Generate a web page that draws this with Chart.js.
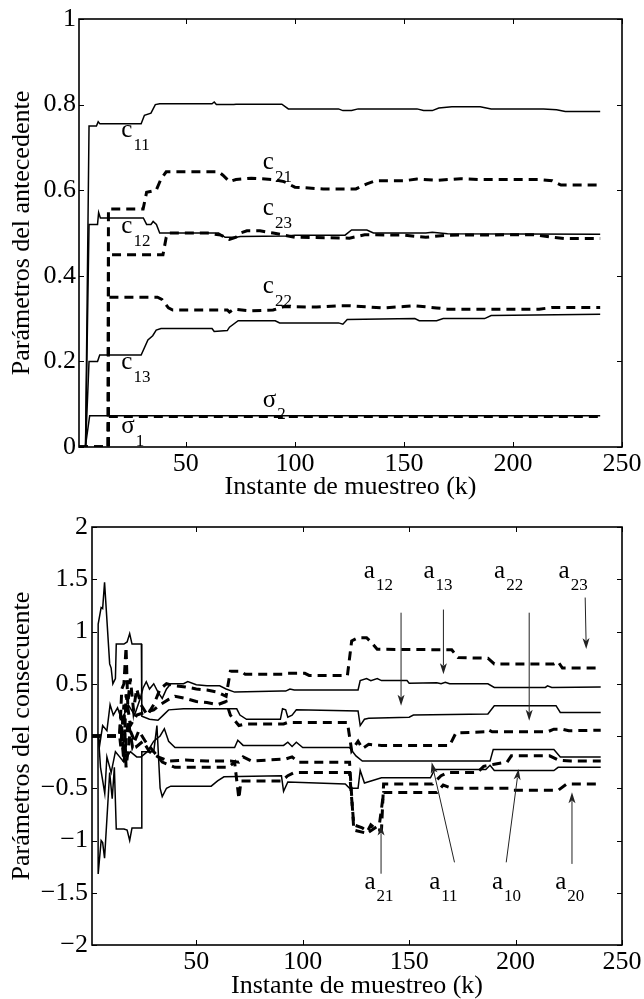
<!DOCTYPE html>
<html>
<head>
<meta charset="utf-8">
<script src="https://cdn.jsdelivr.net/npm/chart.js@4.4.1/dist/chart.umd.min.js"></script>
<style>
  html, body { margin: 0; padding: 0; background: #fff; }
  .panel { position: absolute; left: 0; width: 644px; }
  #top-panel { top: 0; height: 500px; }
  #bottom-panel { top: 500px; height: 499px; }
</style>
</head>
<body>
<div class="panel" id="top-panel"><canvas id="antChart" width="644" height="500"></canvas></div>
<div class="panel" id="bottom-panel"><canvas id="conChart" width="644" height="499"></canvas></div>
<script>
// --- Data: [k, value] pairs ---

// antecedent parameters (top)
const c11 = [[1,0],[4,0],[5.6,0.75],[9,0.75],[9.8,0.76],[10.6,0.755],[29.5,0.755],[31,0.775],[34,0.78],[36,0.8],[38,0.802],[62,0.802],[63,0.806],[64,0.8],[72,0.8],[73,0.801],[94,0.801],[97,0.79],[120,0.79],[122,0.786],[126,0.786],[129,0.79],[156,0.79],[159,0.786],[163,0.786],[166,0.792],[172,0.795],[185,0.795],[190,0.79],[214,0.79],[220,0.788],[224,0.784],[240,0.784]];
const c12 = [[1,0],[4,0],[5.6,0.52],[9.5,0.52],[10,0.548],[10.8,0.535],[30.5,0.535],[32,0.52],[34,0.52],[35,0.527],[36.5,0.52],[38,0.5],[65,0.5],[68,0.49],[73,0.49],[75,0.492],[96,0.493],[100,0.495],[123,0.495],[126,0.507],[133,0.507],[136,0.5],[160,0.5],[163,0.502],[170,0.498],[240,0.497]];
const c13 = [[1,0],[4,0],[5.6,0.2],[9.5,0.2],[10.5,0.215],[29.5,0.215],[32.6,0.25],[34.8,0.26],[36.4,0.273],[38.6,0.277],[62,0.277],[63,0.27],[69,0.272],[70,0.28],[74,0.295],[91,0.295],[93,0.29],[120,0.29],[122,0.287],[124,0.298],[155,0.3],[157,0.295],[165,0.295],[168,0.3],[187,0.3],[190,0.307],[240,0.31]];
const c21 = [[1,0],[14.4,0],[14.5,0.556],[30.4,0.556],[32,0.595],[36.4,0.6],[38.5,0.625],[41,0.643],[65,0.643],[67,0.635],[70,0.62],[73,0.625],[80,0.628],[90,0.625],[95,0.62],[100,0.607],[113,0.603],[128,0.603],[133,0.615],[137,0.622],[150,0.622],[156,0.626],[165,0.623],[176,0.627],[185,0.625],[212,0.625],[218,0.622],[222,0.612],[240,0.612]];
const c22 = [[1,0],[14.4,0],[14.5,0.35],[37,0.35],[39,0.345],[42,0.325],[44,0.32],[69,0.32],[70,0.315],[72,0.322],[80,0.318],[90,0.32],[95,0.328],[110,0.327],[120,0.33],[125,0.33],[140,0.325],[150,0.328],[155,0.33],[165,0.325],[170,0.322],[212,0.322],[218,0.326],[240,0.326]];
const c23 = [[1,0],[14.4,0],[14.5,0.449],[39.5,0.449],[41,0.49],[42,0.5],[60,0.5],[66,0.495],[70,0.485],[73,0.49],[75,0.5],[78,0.505],[84,0.505],[90,0.5],[100,0.49],[125,0.488],[132,0.496],[150,0.495],[160,0.49],[170,0.495],[210,0.496],[218,0.49],[224,0.487],[240,0.487]];
const sigma1 = [[1,0],[3.9,0],[5.9,0.073],[240,0.073]];
const sigma2 = [[1,0],[14.4,0],[14.5,0.071],[240,0.071]];

// consequent parameters (bottom)
const a10 = [[1,0],[3.8,0],[3.9,-1.32],[5.3,-1.0],[6,-1.02],[6.9,-1.17],[9.3,-0.35],[10.5,-0.6],[11.5,-0.3],[12.4,-0.89],[16,-0.89],[17.5,-0.9],[18.7,-1.0],[19.8,-0.88],[24.2,-0.88],[24.4,-0.15],[30,-0.15],[31.5,0.1],[33,-0.5],[34,-0.58],[36,-0.5],[38,-0.48],[57,-0.48],[60,-0.43],[63,-0.39],[90,-0.38],[91,-0.53],[93,-0.44],[120,-0.46],[122,-0.5],[126,-0.5],[127,-0.33],[129,-0.45],[137,-0.4],[160,-0.4],[162,-0.32],[186,-0.32],[188,-0.28],[190,-0.33],[218,-0.33],[220,-0.3],[240,-0.3]];
const a11 = [[1,0],[4,0],[5,-0.3],[7,-0.55],[8,-0.2],[10,-0.35],[12,-0.15],[14,-0.2],[16,-0.25],[19,-0.15],[22,-0.2],[24,-0.2],[27,-0.15],[30,-0.05],[33,0.0],[35,0.07],[37,-0.05],[40,-0.11],[68,-0.11],[69.5,-0.04],[72,-0.09],[91,-0.09],[93,-0.06],[95,-0.1],[97,-0.06],[100,-0.11],[122,-0.11],[125,-0.19],[128,-0.24],[188,-0.24],[189.5,-0.13],[218,-0.13],[221,-0.2],[240,-0.2]];
const a12 = [[1,0],[3.8,0],[3.9,1.07],[5.3,1.23],[6,1.22],[6.9,1.47],[9.3,0.69],[10,0.65],[10.8,0.5],[12,0.55],[12.4,0.88],[16,0.88],[17.5,0.9],[18.7,0.98],[19.8,0.88],[24.2,0.88],[24.4,0.19],[28,0.16],[32,0.15],[34.5,0.2],[37,0.25],[44,0.26],[69,0.26],[70.5,0.2],[73.6,0.16],[89.5,0.16],[90.5,0.26],[92,0.25],[93,0.18],[95,0.2],[97,0.25],[126,0.24],[127,0.1],[129,0.16],[131,0.17],[150,0.18],[152,0.2],[187,0.21],[190,0.29],[219,0.29],[221,0.225],[240,0.225]];
const a13 = [[1,0],[4,0],[4.5,-0.1],[6,0.1],[8,0.05],[9.5,0.3],[11,0.2],[13,0.27],[15,0.15],[18,0.3],[21,0.2],[23.5,0.35],[25,0.46],[26.5,0.52],[28,0.45],[30,0.5],[32,0.42],[34,0.36],[36,0.45],[38,0.5],[44,0.5],[46,0.52],[50,0.49],[55,0.48],[61,0.48],[64,0.45],[68,0.42],[90,0.43],[92,0.43],[94,0.45],[96,0.44],[126,0.44],[127,0.53],[130,0.55],[132,0.53],[135,0.55],[137,0.53],[149,0.53],[150,0.505],[163,0.51],[165,0.5],[167,0.515],[169,0.5],[187,0.5],[190,0.465],[214,0.465],[215,0.48],[217,0.465],[240,0.47]];
const a20 = [[1,0],[14,0],[14.5,0.1],[16,-0.25],[18,0.15],[20,-0.1],[23,0.05],[26,-0.05],[30,-0.15],[34,-0.25],[40,-0.3],[65,-0.3],[68,-0.25],[70,-0.6],[71,-0.43],[90,-0.43],[93,-0.38],[96,-0.35],[122,-0.35],[124,-0.85],[128,-0.88],[131,-0.92],[136,-0.85],[138,-0.54],[163,-0.54],[166,-0.47],[170,-0.5],[197,-0.5],[199,-0.52],[220,-0.52],[224,-0.46],[240,-0.46]];
const a21 = [[1,0],[14,0],[14.5,-0.1],[16,0.3],[17,-0.3],[19,0.05],[22,-0.1],[25,-0.05],[28,-0.15],[32,-0.2],[37,-0.24],[45,-0.23],[55,-0.24],[66,-0.24],[70,-0.25],[72,-0.2],[76,-0.24],[92,-0.22],[95,-0.2],[98,-0.25],[122,-0.25],[124,-0.9],[130,-0.93],[132,-0.85],[135,-0.9],[137,-0.9],[138,-0.46],[161,-0.46],[165,-0.38],[168,-0.35],[182,-0.35],[185,-0.29],[190,-0.27],[196,-0.25],[198,-0.19],[216,-0.19],[220,-0.23],[226,-0.24],[240,-0.24]];
const a22 = [[1,0],[14,0],[14.5,0.2],[16,-0.2],[17,0.4],[19,0.1],[22,0.2],[25,0.22],[30,0.25],[33,0.3],[37,0.35],[40,0.38],[45,0.36],[50,0.33],[55,0.32],[60,0.3],[64,0.33],[66,0.2],[70,0.1],[73,0.115],[91,0.115],[93,0.13],[121,0.13],[123,-0.14],[126,-0.05],[128,-0.12],[131,-0.08],[137,-0.09],[169,-0.09],[172,0.03],[186,0.04],[187,0.06],[189,0.04],[215,0.04],[218,0.065],[222,0.065],[225,0.05],[240,0.055]];
const a23 = [[1,0],[14,0],[15,0.45],[16,0.5],[17,0.85],[17.8,0.3],[19,0.55],[20.5,0.25],[22,0.45],[24,0.3],[27,0.2],[30,0.3],[33,0.45],[36,0.5],[40,0.48],[45,0.47],[50,0.45],[55,0.44],[60,0.42],[64,0.38],[66,0.62],[71,0.62],[73,0.59],[91,0.59],[93,0.6],[101,0.6],[103,0.58],[121,0.58],[123,0.91],[126,0.94],[130,0.94],[132,0.9],[135,0.83],[170,0.825],[173,0.75],[187,0.745],[190,0.69],[218,0.69],[220,0.71],[222,0.65],[240,0.65]];

// axes
const xTicks = [50, 100, 150, 200, 250];
const antTicks = [0, 0.2, 0.4, 0.6, 0.8, 1];
const conTicks = [-2, -1.5, -1, -0.5, 0, 0.5, 1, 1.5, 2];

// in-plot labels: [base, subscript, k, value] (baseline of the base letter)
const antLabels = [
    ['c', '11', 20.4, 0.724], ['c', '12', 20.4, 0.5], ['c', '13', 20.4, 0.182],
    ['c', '21', 85.3, 0.649], ['c', '23', 85.3, 0.542], ['c', '22', 85.3, 0.359],
    ['\u03c3', '2', 85.3, 0.094], ['\u03c3', '1', 20.4, 0.032]
];
const conLabels = [
    ['a', '12', 128.7, 1.516], ['a', '13', 156.7, 1.516], ['a', '22', 189.9, 1.516], ['a', '23', 220.2, 1.516],
    ['a', '21', 129, -1.463], ['a', '11', 159.4, -1.463], ['a', '10', 188.9, -1.463], ['a', '20', 218.6, -1.463]
];
// arrows: [kFrom, vFrom, kTo, vTo]
const conArrows = [
    [146.2, 1.18, 146.2, 0.29], [166.1, 1.21, 166.1, 0.59], [206.4, 1.18, 206.4, 0.146], [232.7, 1.325, 233.2, 0.832],
    [136.8, -1.318, 136.8, -0.848], [171.3, -1.209, 160.6, -0.252], [195.6, -1.209, 201.4, -0.315], [226.5, -1.224, 226.5, -0.539]
];

// --- Styling ---
const SERIF = '"Liberation Serif", "Times New Roman", serif';
const TICK_LEN = 5;
Chart.defaults.font.family = SERIF;
Chart.defaults.color = '#000';

function solid(data) {
    return { data: data.map(p => ({ x: p[0], y: p[1] })), borderColor: '#000', borderWidth: 1.5, pointRadius: 0, tension: 0, fill: false };
}
function dashed(data) {
    return { data: data.map(p => ({ x: p[0], y: p[1] })), borderColor: '#000', borderWidth: 3, borderDash: [9, 6], pointRadius: 0, tension: 0, fill: false };
}

// box around plot area + inward ticks on all four sides
const framePlugin = {
    id: 'frame',
    afterDatasetsDraw(chart) {
        const { ctx, chartArea: a, scales: { x, y } } = chart;
        ctx.save();
        ctx.strokeStyle = '#000';
        ctx.lineWidth = 1;
        ctx.beginPath();
        x.ticks.forEach(t => {
            const px = Math.round(x.getPixelForValue(t.value)) + 0.5;
            ctx.moveTo(px, a.bottom); ctx.lineTo(px, a.bottom - TICK_LEN);
            ctx.moveTo(px, a.top); ctx.lineTo(px, a.top + TICK_LEN);
        });
        y.ticks.forEach(t => {
            const py = Math.round(y.getPixelForValue(t.value)) + 0.5;
            ctx.moveTo(a.left, py); ctx.lineTo(a.left + TICK_LEN, py);
            ctx.moveTo(a.right, py); ctx.lineTo(a.right - TICK_LEN, py);
        });
        ctx.stroke();
        ctx.lineWidth = 1.6;
        ctx.strokeRect(a.left, a.top, a.right - a.left, a.bottom - a.top);
        ctx.restore();
    }
};

function notesPlugin(labels, arrows) {
    return {
        id: 'notes',
        afterDatasetsDraw(chart) {
            const { ctx, scales: { x, y } } = chart;
            ctx.save();
            ctx.fillStyle = '#000';
            ctx.textBaseline = 'alphabetic';
            ctx.textAlign = 'left';
            labels.forEach(([base, sub, k, v]) => {
                const px = x.getPixelForValue(k), py = y.getPixelForValue(v);
                ctx.font = '25px ' + SERIF;
                ctx.fillText(base, px, py);
                const w = ctx.measureText(base).width;
                ctx.font = '17px ' + SERIF;
                ctx.fillText(sub, px + w + 1, py + 12.5);
            });
            ctx.strokeStyle = '#222';
            ctx.fillStyle = '#222';
            ctx.lineWidth = 1;
            arrows.forEach(([k0, v0, k1, v1]) => {
                const x0 = x.getPixelForValue(k0), y0 = y.getPixelForValue(v0);
                const x1 = x.getPixelForValue(k1), y1 = y.getPixelForValue(v1);
                const ang = Math.atan2(y1 - y0, x1 - x0);
                const len = 11, half = 3.5;
                ctx.beginPath();
                ctx.moveTo(x0, y0);
                ctx.lineTo(x1 - Math.cos(ang) * len * 0.8, y1 - Math.sin(ang) * len * 0.8);
                ctx.stroke();
                ctx.beginPath();
                ctx.moveTo(x1, y1);
                ctx.lineTo(x1 - Math.cos(ang) * len - Math.sin(ang) * half, y1 - Math.sin(ang) * len + Math.cos(ang) * half);
                ctx.lineTo(x1 - Math.cos(ang) * len * 0.75, y1 - Math.sin(ang) * len * 0.75);
                ctx.lineTo(x1 - Math.cos(ang) * len + Math.sin(ang) * half, y1 - Math.sin(ang) * len - Math.cos(ang) * half);
                ctx.closePath();
                ctx.fill();
            });
            ctx.restore();
        }
    };
}

function fmt(v) {
    return String(v).replace('-', '\u2212');
}

function buildChart(canvasId, datasets, yMin, yMax, yTicks, yTitle, yAxisWidth, xAxisHeight, padTop, yTickPad, plugins) {
    const ctx = document.getElementById(canvasId).getContext('2d');
    return new Chart(ctx, {
        type: 'line',
        data: { datasets: datasets },
        options: {
            responsive: false,
            animation: false,
            devicePixelRatio: 1,
            layout: { padding: { top: padTop, right: 22, left: 0, bottom: 0 } },
            plugins: { legend: { display: false }, tooltip: { enabled: false } },
            scales: {
                x: {
                    type: 'linear',
                    min: 1, max: 250,
                    afterBuildTicks: s => { s.ticks = xTicks.map(v => ({ value: v })); },
                    afterFit: s => { s.height = xAxisHeight; },
                    grid: { display: false, drawTicks: false },
                    border: { display: false },
                    ticks: { font: { size: 26 }, padding: 2, maxRotation: 0, autoSkip: false, callback: v => fmt(v) },
                    title: { display: true, text: 'Instante de muestreo (k)', font: { size: 26, lineHeight: 1 }, padding: { top: 0, bottom: 0 } }
                },
                y: {
                    type: 'linear',
                    min: yMin, max: yMax,
                    afterBuildTicks: s => { s.ticks = yTicks.map(v => ({ value: v })); },
                    afterFit: s => { s.width = yAxisWidth; },
                    grid: { display: false, drawTicks: false },
                    border: { display: false },
                    ticks: { font: { size: 26 }, padding: yTickPad, autoSkip: false, callback: v => fmt(v) },
                    title: { display: true, text: yTitle, font: { size: 26, lineHeight: 1.2 }, padding: { top: 7, bottom: 0 } }
                }
            }
        },
        plugins: plugins
    });
}

buildChart('antChart',
    [solid(c11), solid(c12), solid(c13), dashed(c21), dashed(c22), dashed(c23), solid(sigma1), dashed(sigma2)],
    0, 1, antTicks, 'Parámetros del antecedente', 79, 53, 19, 3,
    [framePlugin, notesPlugin(antLabels, [])]);

buildChart('conChart',
    [solid(a10), solid(a11), solid(a12), solid(a13), dashed(a20), dashed(a21), dashed(a22), dashed(a23)],
    -2, 2, conTicks, 'Parámetros del consecuente', 92, 54, 27, 4,
    [framePlugin, notesPlugin(conLabels, conArrows)]);
</script>
</body>
</html>
